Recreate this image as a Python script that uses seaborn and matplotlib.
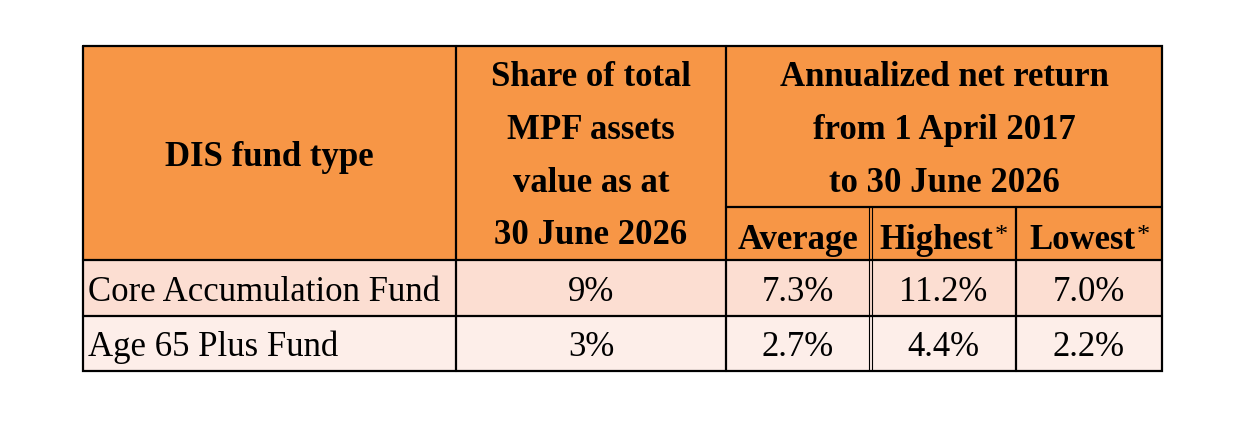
import matplotlib
matplotlib.use("Agg")
import matplotlib.pyplot as plt
import seaborn as sns
from matplotlib.patches import Rectangle

# table content
funds = ["Core Accumulation Fund", "Age 65 Plus Fund"]
share = ["9%", "3%"]
average = [7.3, 2.7]
highest = [11.2, 4.4]
lowest = [7.0, 2.2]

share_header = ["Share of total", "MPF assets", "value as at", "30 June 2026"]
return_header = ["Annualized net return", "from 1 April 2017", "to 30 June 2026"]
sub_header = ["Average", "Highest", "Lowest"]

sns.set_theme(style="white")
plt.rcParams['font.family'] = ['Liberation Serif', 'DejaVu Serif']
plt.rcParams['text.color'] = 'black'

HEAD = "#F79646"
ROW_COLORS = ["#FCDED2", "#FDEEE9"]

# layout in pixels
cols = [83, 456, 726, 870, 1016, 1162]
top, sub_y, head_bot = 46, 207, 260
row_edges = [260, 316, 371]

fig = plt.figure(figsize=(12.46, 4.32), dpi=100)
ax = fig.add_axes([0, 0, 1, 1])
ax.set_xlim(0, 1246)
ax.set_ylim(432, 0)
ax.axis("off")

# backgrounds
ax.add_patch(Rectangle((cols[0], top), cols[-1] - cols[0], head_bot - top,
                       facecolor=HEAD, edgecolor="none"))
for i, c in enumerate(ROW_COLORS):
    ax.add_patch(Rectangle((cols[0], row_edges[i]), cols[-1] - cols[0],
                           row_edges[i + 1] - row_edges[i], facecolor=c, edgecolor="none"))

lw = 1.6
k = "black"
# outer frame
ax.plot([cols[0], cols[-1], cols[-1], cols[0], cols[0]],
        [top, top, row_edges[-1], row_edges[-1], top], color=k, lw=lw, solid_joinstyle="miter")
for y in row_edges[:-1]:
    ax.plot([cols[0], cols[-1]], [y, y], color=k, lw=lw)
ax.plot([cols[2], cols[-1]], [sub_y, sub_y], color=k, lw=lw)
for x in cols[1:3]:
    ax.plot([x, x], [top, row_edges[-1]], color=k, lw=lw)
ax.plot([cols[4], cols[4]], [sub_y, row_edges[-1]], color=k, lw=lw)
# double rule before "Highest"
for dx in (-1.5, 1.5):
    ax.plot([cols[3] + dx, cols[3] + dx], [sub_y, row_edges[-1]], color=k, lw=0.8)

fs = 25
# header text
ax.text((cols[0] + cols[1]) / 2, 166, "DIS fund type", ha="center", va="baseline",
        fontsize=fs, fontweight="bold")
for line, y in zip(share_header, [86, 139, 192, 244]):
    ax.text((cols[1] + cols[2]) / 2, y, line, ha="center", va="baseline",
            fontsize=fs, fontweight="bold")
for line, y in zip(return_header, [86, 139, 192]):
    ax.text((cols[2] + cols[-1]) / 2, y, line, ha="center", va="baseline",
            fontsize=fs, fontweight="bold")
for j, name in enumerate(sub_header):
    cx = (cols[2 + j] + cols[3 + j]) / 2
    if j > 0:
        cx -= 7
    t = ax.text(cx, 249, name, ha="center", va="baseline", fontsize=fs, fontweight="bold")
    if j > 0:
        ax.annotate("*", xy=(1, 1), xycoords=t, xytext=(1.5, -1), textcoords="offset points",
                    ha="left", va="top", fontsize=19)

# body
baselines = [301, 356]
for i in range(len(funds)):
    y = baselines[i]
    ax.text(88, y, funds[i], ha="left", va="baseline", fontsize=fs)
    ax.text((cols[1] + cols[2]) / 2, y, share[i], ha="center", va="baseline", fontsize=fs)
    for j, v in enumerate([average[i], highest[i], lowest[i]]):
        ax.text((cols[2 + j] + cols[3 + j]) / 2, y, f"{v:.1f}%", ha="center",
                va="baseline", fontsize=fs)

fig.savefig("out.png", dpi=100, facecolor="white")
